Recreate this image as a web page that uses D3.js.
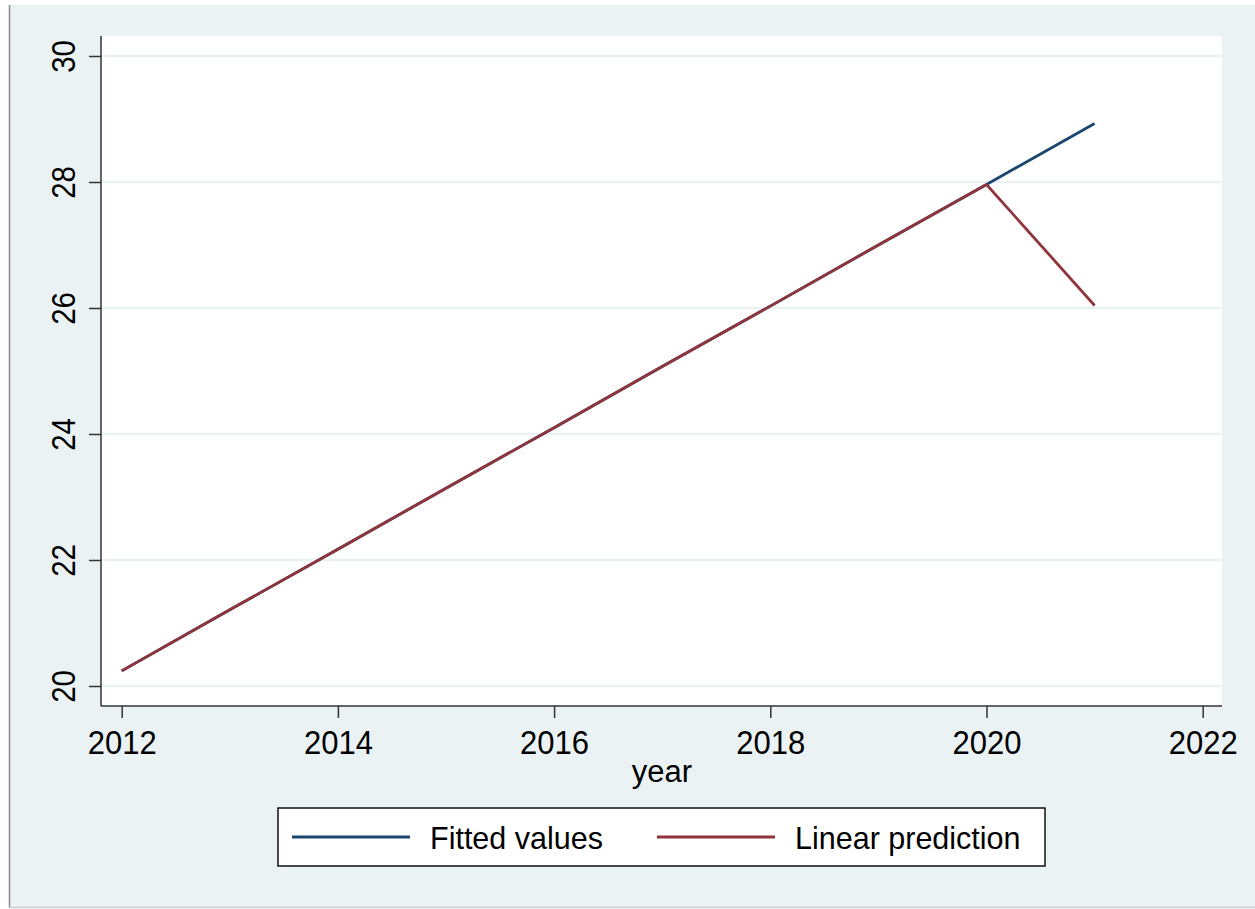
<!DOCTYPE html>
<html>
<head>
<meta charset="utf-8">
<script src="https://cdn.jsdelivr.net/npm/d3@7"></script>
<style>
  html, body { margin: 0; padding: 0; background: #ffffff; }
  svg { display: block; }
  text { font-family: "Liberation Sans", Arial, Helvetica, sans-serif; fill: #000; }
</style>
</head>
<body>
<svg id="chart" width="1255" height="909"></svg>
<script>
// ---- data ----
const years = [2012, 2013, 2014, 2015, 2016, 2017, 2018, 2019, 2020, 2021];
const fittedValues = [20.24, 21.21, 22.17, 23.14, 24.10, 25.07, 26.03, 27.00, 27.96, 28.93];
const linearPrediction = [20.24, 21.21, 22.17, 23.14, 24.10, 25.07, 26.03, 27.00, 27.96, 26.04];
const xTicks = [2012, 2014, 2016, 2018, 2020, 2022];
const yTicks = [20, 22, 24, 26, 28, 30];
const seriesNames = ["Fitted values", "Linear prediction"];

// ---- layout ----
const svg = d3.select("#chart");
const bg = "#eaf2f3";
const navy = "#1a476f";
const maroon = "#90353b";

// graph region
svg.append("rect").attr("x", 9).attr("y", 5).attr("width", 1246).attr("height", 903).attr("fill", bg);
svg.append("line").attr("x1", 9.5).attr("x2", 9.5).attr("y1", 5).attr("y2", 908).attr("stroke", "#8a8a8a").attr("stroke-width", 1.5);
svg.append("line").attr("x1", 9).attr("x2", 1255).attr("y1", 907.5).attr("y2", 907.5).attr("stroke", "#c8cccd").attr("stroke-width", 1.5);

// plot region
const plot = { left: 101, top: 36, right: 1222, bottom: 706 };
svg.append("rect").attr("x", plot.left).attr("y", plot.top)
  .attr("width", plot.right - plot.left).attr("height", plot.bottom - plot.top).attr("fill", "#fff");

const x = d3.scaleLinear().domain([2012, 2022]).range([121.7, 1202.7]);
const y = d3.scaleLinear().domain([20, 30]).range([686, 56]);

// gridlines
svg.append("g").selectAll("line").data(yTicks).join("line")
  .attr("x1", plot.left).attr("x2", plot.right)
  .attr("y1", d => y(d)).attr("y2", d => y(d))
  .attr("stroke", bg).attr("stroke-width", 2.5);

// y axis
const yAxis = svg.append("g").attr("transform", `translate(${plot.left},0)`)
  .call(d3.axisLeft(y).tickValues(yTicks).tickSize(12).tickFormat(d3.format("d")));
yAxis.select(".domain").attr("d", `M0,${plot.top}V${plot.bottom}`).attr("stroke", "#333").attr("stroke-width", 1.5);
yAxis.selectAll(".tick line").attr("stroke", "#333").attr("stroke-width", 1.5);
yAxis.selectAll(".tick text")
  .attr("x", 0).attr("y", 0).attr("dy", 0)
  .attr("transform", "translate(-26,0) rotate(-90) scale(0.95,1.06)")
  .attr("text-anchor", "middle")
  .style("font-size", "31px")
  .style("font-family", "'Liberation Sans', Arial, sans-serif")
  .attr("fill", "#000");

// x axis
const xAxis = svg.append("g").attr("transform", `translate(0,${plot.bottom})`)
  .call(d3.axisBottom(x).tickValues(xTicks).tickSize(12).tickFormat(d3.format("d")));
xAxis.select(".domain").attr("d", `M${plot.left},0H${plot.right}`).attr("stroke", "#333").attr("stroke-width", 1.5);
xAxis.selectAll(".tick line").attr("stroke", "#333").attr("stroke-width", 1.5);
xAxis.selectAll(".tick text")
  .attr("y", 0).attr("dy", 0)
  .attr("transform", "translate(0,48) scale(1,1.06)")
  .style("font-size", "31px")
  .style("font-family", "'Liberation Sans', Arial, sans-serif")
  .attr("fill", "#000");

// x title
svg.append("text").attr("x", 662).attr("y", 782).attr("text-anchor", "middle")
  .style("font-size", "31px").text("year");

// lines
const line = d3.line().x((d, i) => x(years[i])).y(d => y(d));
svg.append("path").datum(fittedValues).attr("d", line)
  .attr("fill", "none").attr("stroke", navy).attr("stroke-width", 2.8);
svg.append("path").datum(linearPrediction).attr("d", line)
  .attr("fill", "none").attr("stroke", maroon).attr("stroke-width", 2.8);

// legend
const lg = svg.append("g");
lg.append("rect").attr("x", 278).attr("y", 808).attr("width", 767).attr("height", 58)
  .attr("fill", "#fff").attr("stroke", "#111").attr("stroke-width", 1.5);
const legendItems = [
  { name: seriesNames[0], color: navy, x1: 292, x2: 410, tx: 430 },
  { name: seriesNames[1], color: maroon, x1: 657, x2: 775, tx: 795 }
];
legendItems.forEach(it => {
  lg.append("line").attr("x1", it.x1).attr("x2", it.x2).attr("y1", 837).attr("y2", 837)
    .attr("stroke", it.color).attr("stroke-width", 2.8);
  lg.append("text").attr("x", it.tx).attr("y", 849).style("font-size", "30.5px").text(it.name);
});
</script>
</body>
</html>
